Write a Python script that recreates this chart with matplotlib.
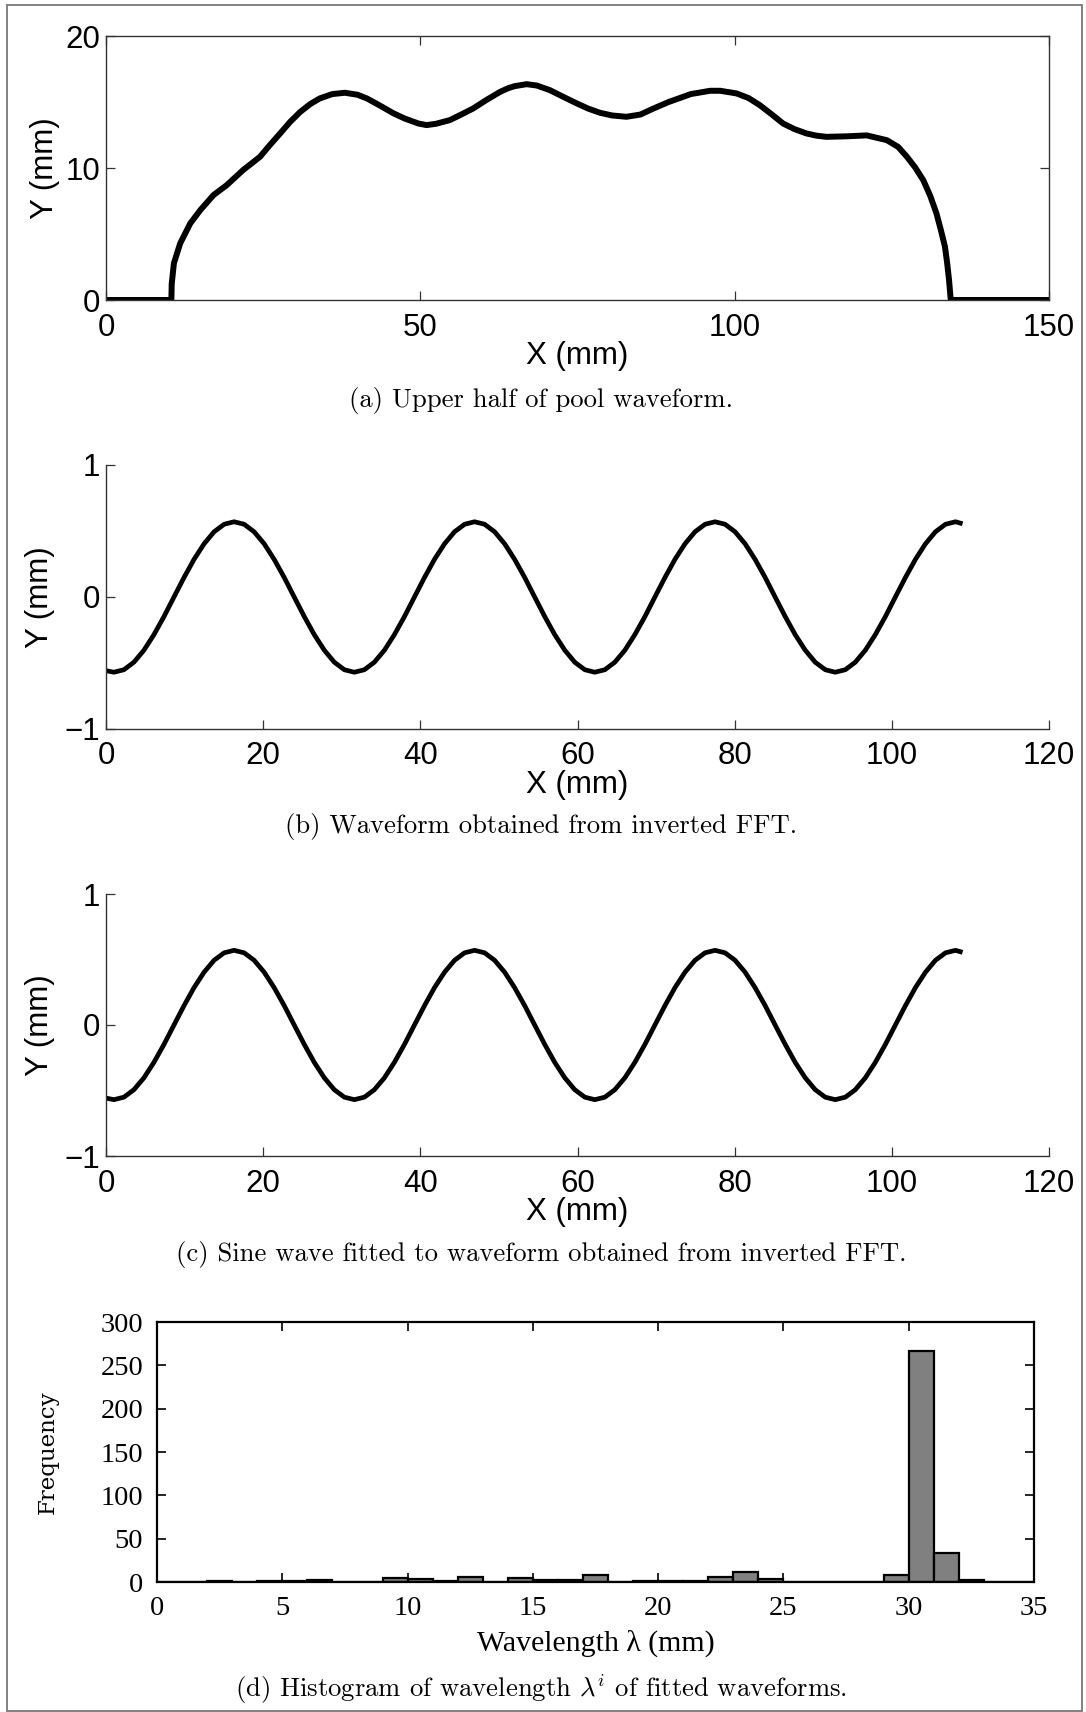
import matplotlib
matplotlib.use("Agg")
import matplotlib.pyplot as plt
from matplotlib.patches import Rectangle

plt.rcParams['mathtext.fontset'] = 'cm'
plt.rcParams['axes.unicode_minus'] = True

# ---------------- data ----------------
# (a) upper half of pool waveform
pool_x = [0, 10.4, 10.45, 10.8, 11.8, 13.4, 15.0, 17.1, 19.2, 21.8, 24.5, 26.0, 27.7, 29.3,
          30.9, 32.5, 34.0, 36.0, 38.0, 40.0, 41.5, 43.5, 45.7, 47.5, 49.7, 51.0, 52.5, 54.7,
          56.5, 58.4, 60.5, 62.7, 64.0, 65.0, 66.9, 68.5, 70.6, 72.7, 74.9, 76.7, 78.6, 80.5,
          82.8, 85.0, 87.1, 89.5, 91.8, 93.0, 94.5, 96.1, 97.7, 100.3, 102.2, 104.0, 105.8,
          107.7, 109.5, 111.4, 113.0, 114.6, 117.8, 121.0, 124.2, 126.0, 127.4, 128.7, 130.0,
          131.1, 132.1, 132.8, 133.45, 133.8, 134.1, 134.35, 134.4, 150]
pool_y = [0, 0, 1.2, 2.78, 4.29, 5.8, 6.81, 7.95, 8.7, 9.84, 10.85, 11.7, 12.62, 13.5,
          14.25, 14.85, 15.27, 15.6, 15.7, 15.55, 15.27, 14.75, 14.15, 13.75, 13.37, 13.25, 13.35, 13.63,
          14.05, 14.51, 15.15, 15.77, 16.05, 16.2, 16.35, 16.25, 15.9, 15.4, 14.89, 14.5, 14.18, 13.98,
          13.88, 14.05, 14.51, 15.0, 15.39, 15.6, 15.72, 15.85, 15.85, 15.65, 15.3, 14.76, 14.1,
          13.37, 12.95, 12.62, 12.45, 12.36, 12.4, 12.47, 12.11, 11.6, 10.85, 10.05, 9.08,
          7.9, 6.56, 5.3, 4.04, 2.8, 1.51, 0.13, 0, 0]

# (b) waveform from inverted FFT
ifft_x = [0.0, 1.00, 2.28, 3.55, 4.83, 6.10, 7.38, 8.65, 9.93, 11.20, 12.48, 13.75, 15.03, 16.30,
          17.58, 18.85, 20.13, 21.40, 22.68, 23.95, 25.23, 26.50, 27.78, 29.05, 30.33, 31.60,
          32.88, 34.15, 35.43, 36.70, 37.98, 39.25, 40.53, 41.80, 43.08, 44.35, 45.63, 46.90,
          48.18, 49.45, 50.73, 52.00, 53.28, 54.55, 55.83, 57.10, 58.38, 59.65, 60.93, 62.20,
          63.48, 64.75, 66.03, 67.30, 68.58, 69.85, 71.13, 72.40, 73.68, 74.95, 76.23, 77.50,
          78.78, 80.05, 81.33, 82.60, 83.88, 85.15, 86.43, 87.70, 88.98, 90.25, 91.53, 92.80,
          94.08, 95.35, 96.63, 97.90, 99.18, 100.45, 101.73, 103.00, 104.28, 105.55, 106.83,
          108.10, 109.0]
ifft_y = [-0.558,
          -0.570, -0.551, -0.494, -0.403, -0.285, -0.148, 0.000, 0.148, 0.285, 0.403, 0.494, 0.551,
          0.570, 0.551, 0.494, 0.403, 0.285, 0.148, 0.000, -0.148, -0.285, -0.403, -0.494, -0.551,
          -0.570, -0.551, -0.494, -0.403, -0.285, -0.148, 0.000, 0.148, 0.285, 0.403, 0.494, 0.551,
          0.570, 0.551, 0.494, 0.403, 0.285, 0.148, 0.000, -0.148, -0.285, -0.403, -0.494, -0.551,
          -0.570, -0.551, -0.494, -0.403, -0.285, -0.148, 0.000, 0.148, 0.285, 0.403, 0.494, 0.551,
          0.570, 0.551, 0.494, 0.403, 0.285, 0.148, 0.000, -0.148, -0.285, -0.403, -0.494, -0.551,
          -0.570, -0.551, -0.494, -0.403, -0.285, -0.148, 0.000, 0.148, 0.285, 0.403, 0.494, 0.551,
          0.570, 0.555]

# (c) fitted sine wave (visually identical to (b))
fit_x = [0.0, 1.00, 2.28, 3.55, 4.83, 6.10, 7.38, 8.65, 9.93, 11.20, 12.48, 13.75, 15.03, 16.30,
         17.58, 18.85, 20.13, 21.40, 22.68, 23.95, 25.23, 26.50, 27.78, 29.05, 30.33, 31.60,
         32.88, 34.15, 35.43, 36.70, 37.98, 39.25, 40.53, 41.80, 43.08, 44.35, 45.63, 46.90,
         48.18, 49.45, 50.73, 52.00, 53.28, 54.55, 55.83, 57.10, 58.38, 59.65, 60.93, 62.20,
         63.48, 64.75, 66.03, 67.30, 68.58, 69.85, 71.13, 72.40, 73.68, 74.95, 76.23, 77.50,
         78.78, 80.05, 81.33, 82.60, 83.88, 85.15, 86.43, 87.70, 88.98, 90.25, 91.53, 92.80,
         94.08, 95.35, 96.63, 97.90, 99.18, 100.45, 101.73, 103.00, 104.28, 105.55, 106.83,
         108.10, 109.0]
fit_y = [-0.558,
         -0.570, -0.551, -0.494, -0.403, -0.285, -0.148, 0.000, 0.148, 0.285, 0.403, 0.494, 0.551,
         0.570, 0.551, 0.494, 0.403, 0.285, 0.148, 0.000, -0.148, -0.285, -0.403, -0.494, -0.551,
         -0.570, -0.551, -0.494, -0.403, -0.285, -0.148, 0.000, 0.148, 0.285, 0.403, 0.494, 0.551,
         0.570, 0.551, 0.494, 0.403, 0.285, 0.148, 0.000, -0.148, -0.285, -0.403, -0.494, -0.551,
         -0.570, -0.551, -0.494, -0.403, -0.285, -0.148, 0.000, 0.148, 0.285, 0.403, 0.494, 0.551,
         0.570, 0.551, 0.494, 0.403, 0.285, 0.148, 0.000, -0.148, -0.285, -0.403, -0.494, -0.551,
         -0.570, -0.551, -0.494, -0.403, -0.285, -0.148, 0.000, 0.148, 0.285, 0.403, 0.494, 0.551,
         0.570, 0.555]

# (d) histogram of wavelengths (1 mm bins starting at 0)
bin_left = [0, 1, 2, 3, 4, 5, 6, 7, 8, 9, 10, 11, 12, 13, 14, 15, 16, 17, 18, 19, 20, 21,
            22, 23, 24, 25, 26, 27, 28, 29, 30, 31, 32, 33, 34]
counts = [0, 0, 1, 0, 1, 1, 2, 0, 0, 5, 4, 1, 6, 0, 5, 2, 2, 8, 0, 1, 1, 1,
          6, 11, 3, 0, 0, 0, 0, 8, 266, 34, 2, 0, 0]

captions = ["(a) Upper half of pool waveform.",
            "(b) Waveform obtained from inverted FFT.",
            "(c) Sine wave fitted to waveform obtained from inverted FFT.",
            r"(d) Histogram of wavelength $\lambda^i$ of fitted waveforms."]

# ---------------- layout helpers ----------------
W, H = 1086, 1712
fig = plt.figure(figsize=(W / 100, H / 100), dpi=100)


def add_ax(left, right, top, bottom):
    return fig.add_axes([left / W, 1 - bottom / H, (right - left) / W, (bottom - top) / H])


SANS = 'Liberation Sans'
SERIF = 'Liberation Serif'
fs_sans = 22.5
spine_c = '#333333'

# frame around the whole figure
fig.patches.append(Rectangle((7 / W, 1 / H), (1082 - 7) / W, (1710 - 4) / H,
                             transform=fig.transFigure, fill=False,
                             edgecolor='#777777', linewidth=1.3))


def style_sans(ax, box):
    for s in ['top', 'right']:
        ax.spines[s].set_visible(box)
    for s in ax.spines.values():
        s.set_color(spine_c)
        s.set_linewidth(1.0)
    ax.tick_params(direction='in', length=6.8, width=0.9, color=spine_c,
                   labelsize=fs_sans, top=box, right=box)
    ax.tick_params(axis='x', pad=9)
    ax.tick_params(axis='y', pad=4)
    for lab in ax.get_xticklabels() + ax.get_yticklabels():
        lab.set_fontfamily(SANS)


# ---------------- (a) ----------------
axa = add_ax(106, 1049, 36, 300)
axa.plot(pool_x, pool_y, color='black', lw=4.3, solid_joinstyle='round')
axa.set_xlim(0, 150)
axa.set_ylim(0, 20)
axa.set_xticks([0, 50, 100, 150])
axa.set_yticks([0, 10, 20])
style_sans(axa, True)
axa.set_xlabel('X (mm)', fontfamily=SANS, fontsize=fs_sans, va='center')
axa.xaxis.set_label_coords(0.5, (300 - 356) / 264)
axa.set_ylabel('Y (mm)', fontfamily=SANS, fontsize=fs_sans, va='center')
axa.yaxis.set_label_coords((45 - 106) / 943, 0.5)

# ---------------- (b), (c) ----------------
for (xs, ys, top, bot, xlab_y) in [(ifft_x, ifft_y, 465, 729, 785),
                                   (fit_x, fit_y, 894, 1156, 1212)]:
    ax = add_ax(106, 1049, top, bot)
    ax.plot(xs, ys, color='black', lw=3.4, solid_joinstyle='round', solid_capstyle='butt')
    ax.set_xlim(0, 120)
    ax.set_ylim(-1, 1)
    ax.set_xticks([0, 20, 40, 60, 80, 100, 120])
    ax.set_yticks([-1, 0, 1])
    style_sans(ax, False)
    ax.set_xlabel('X (mm)', fontfamily=SANS, fontsize=fs_sans, va='center')
    ax.xaxis.set_label_coords(0.5, (bot - xlab_y) / (bot - top))
    ax.set_ylabel('Y (mm)', fontfamily=SANS, fontsize=fs_sans, va='center')
    ax.yaxis.set_label_coords((40 - 106) / 943, 0.5)

# ---------------- (d) ----------------
axd = add_ax(157, 1034, 1322, 1582)
axd.bar(bin_left, counts, width=1.0, align='edge', color='#808080',
        edgecolor='black', linewidth=1.6, zorder=2)
axd.set_xlim(0, 35)
axd.set_ylim(0, 300)
axd.set_xticks([0, 5, 10, 15, 20, 25, 30, 35])
axd.set_yticks([0, 50, 100, 150, 200, 250, 300])
for s in axd.spines.values():
    s.set_linewidth(1.6)
    s.set_color('black')
    s.set_zorder(3)
axd.tick_params(direction='in', length=6.5, width=1.2, labelsize=20.5,
                top=True, right=True)
axd.tick_params(axis='x', pad=10)
axd.tick_params(axis='y', pad=10)
for lab in axd.get_xticklabels() + axd.get_yticklabels():
    lab.set_fontfamily(SERIF)
axd.set_xlabel('Wavelength λ (mm)', fontfamily=SERIF, fontsize=21.5, va='center')
axd.xaxis.set_label_coords(0.5, (1582 - 1643) / 260)
axd.set_ylabel('Frequency', fontfamily='DejaVu Serif', fontsize=16.5, va='center')
axd.yaxis.set_label_coords((48 - 157) / 877, 0.5)

# ---------------- captions ----------------
for cap, yc in zip(captions, [400, 827, 1255, 1689]):
    fig.text(541 / W, 1 - yc / H, cap, ha='center', va='center',
             fontfamily='cmr10', fontsize=19.2)

fig.savefig('out.png', dpi=100)
